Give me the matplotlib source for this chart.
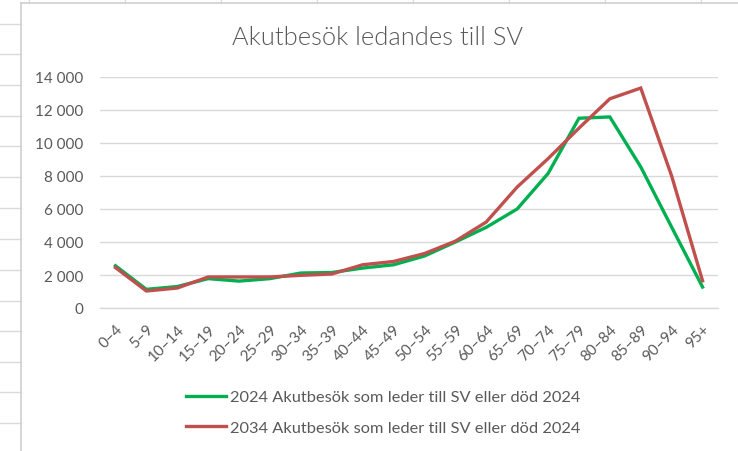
import matplotlib
matplotlib.use("Agg")
import matplotlib.pyplot as plt
from matplotlib.lines import Line2D
from matplotlib.ticker import FuncFormatter

categories = ["0–4", "5–9", "10–14", "15–19", "20–24", "25–29", "30–34", "35–39",
              "40–44", "45–49", "50–54", "55–59", "60–64", "65–69", "70–74",
              "75–79", "80–84", "85–89", "90–94", "95+"]
values_2024 = [2560, 1130, 1300, 1780, 1630, 1780, 2120, 2150, 2420, 2620,
               3150, 4000, 4890, 6000, 8150, 11500, 11580, 8550, 4900, 1270]
values_2034 = [2450, 1030, 1210, 1880, 1880, 1880, 1980, 2060, 2620, 2820,
               3300, 4050, 5210, 7330, 9050, 10900, 12680, 13330, 8000, 1650]
label_2024 = "2024 Akutbesök som leder till SV eller död 2024"
label_2034 = "2034 Akutbesök som leder till SV eller död 2024"
title = "Akutbesök ledandes till SV"
y_ticks = [0, 2000, 4000, 6000, 8000, 10000, 12000, 14000]

plt.rcParams['font.family'] = ['Lato', 'DejaVu Sans']

W, H = 738, 452
fig = plt.figure(figsize=(W / 100, H / 100), dpi=100)
fig.patch.set_facecolor("white")

def fx(x):
    return x / W

def fy(y):
    return 1 - y / H

grid_c = "#DADADA"
# spreadsheet cells behind the chart
for x in [29, 125, 221, 317, 413, 509, 605, 701]:
    fig.add_artist(Line2D([fx(x), fx(x)], [fy(0), fy(4)], color=grid_c, lw=1.0))
for y in [25, 55, 86, 117, 147, 178, 209, 240, 271, 302, 332, 363, 393, 424]:
    fig.add_artist(Line2D([fx(0), fx(21)], [fy(y), fy(y)], color=grid_c, lw=1.0))
# chart area border
fig.add_artist(Line2D([fx(21), fx(21)], [fy(4), fy(452)], color="#D0D0D0", lw=1.2))
fig.add_artist(Line2D([fx(21), fx(738)], [fy(4), fy(4)], color="#D0D0D0", lw=1.2))

ax = fig.add_axes([fx(100), fy(309), (718 - 100) / W, (309 - 78) / H])
xs = list(range(len(categories)))
ax.plot(xs, values_2024, color="#00B050", lw=2.4, label=label_2024, solid_joinstyle="miter")
ax.plot(xs, values_2034, color="#C0504D", lw=2.4, label=label_2034, solid_joinstyle="miter")

ax.set_xlim(-0.5, len(categories) - 0.5)
ax.set_ylim(0, 14000)
ax.set_yticks(y_ticks)
ax.yaxis.set_major_formatter(FuncFormatter(lambda v, p: f"{int(v):,}".replace(",", "\u00a0")))
ax.set_xticks(xs)
ax.set_xticklabels(categories, rotation=45, ha="right", va="top", rotation_mode="anchor")
ax.grid(axis="y", color="#D9D9D9", lw=1.0)
ax.set_axisbelow(True)
for s in ["top", "right", "left"]:
    ax.spines[s].set_visible(False)
ax.spines["bottom"].set_color("#D9D9D9")
ax.spines["bottom"].set_linewidth(1.0)
ax.tick_params(axis="both", length=0, colors="#595959", labelsize=11)
ax.tick_params(axis="y", pad=12)
ax.tick_params(axis="x", pad=10)

fig.text(fx(378), fy(38), title, ha="center", va="center", fontsize=18.3,
         color="#595959", fontweight=300)

fig.legend(loc="upper left", bbox_to_anchor=(fx(186), fy(391)), frameon=False,
           fontsize=11.8, labelcolor="#595959", handlelength=2.45, handletextpad=0.25,
           labelspacing=0.95, borderpad=0, borderaxespad=0)

fig.savefig("out.png", dpi=100, facecolor="white")
